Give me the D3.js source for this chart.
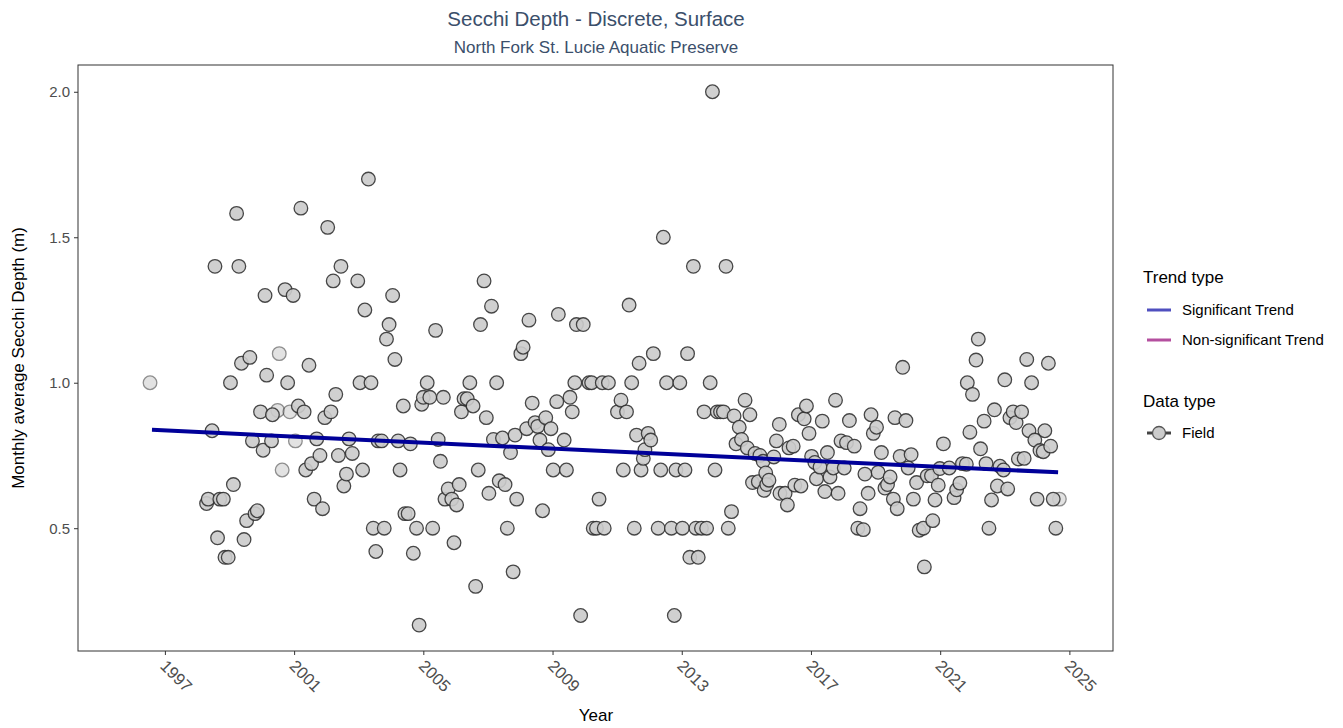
<!DOCTYPE html>
<html>
<head>
<meta charset="utf-8">
<script src="https://d3js.org/d3.v7.min.js"></script>
<style>
  body { margin: 0; background: #fff; }
  text { font-family: "Liberation Sans", Arial, sans-serif; }
</style>
</head>
<body>
<div id="chart"></div>
<script>

// sample dates as decimal years, and monthly average Secchi depth (m)
var sampleYears = [
  1998.29, 1998.34, 1998.46, 1998.55, 1998.63, 1998.70, 1998.81, 1998.86, 1998.96,
  1999.03, 1999.12, 1999.22, 1999.29, 1999.37, 1999.45, 1999.53, 1999.63, 1999.71, 1999.79, 1999.86, 1999.96,
  2000.04, 2000.10, 2000.15, 2000.30, 2000.33, 2000.72, 2000.80, 2000.97,
  2001.13, 2001.21, 2001.31, 2001.36, 2001.46, 2001.54, 2001.62, 2001.70, 2001.80, 2001.88, 2001.95,
  2002.04, 2002.14, 2002.21, 2002.29, 2002.37, 2002.45, 2002.54, 2002.62, 2002.70, 2002.80, 2002.97,
  2003.04, 2003.12, 2003.19, 2003.30, 2003.38, 2003.45, 2003.53, 2003.60, 2003.71, 2003.79, 2003.86, 2003.94,
  2004.05, 2004.12, 2004.22, 2004.28, 2004.38, 2004.43, 2004.53, 2004.60, 2004.69, 2004.79, 2004.87, 2004.95,
  2005.00, 2005.12, 2005.20, 2005.29, 2005.38, 2005.46, 2005.53, 2005.62, 2005.67, 2005.77, 2005.88, 2005.95,
  2006.03, 2006.11, 2006.18, 2006.26, 2006.36, 2006.44, 2006.54, 2006.62, 2006.70, 2006.77, 2006.88, 2006.95,
  2007.03, 2007.11, 2007.17, 2007.27, 2007.35, 2007.45, 2007.53, 2007.60, 2007.70, 2007.78, 2007.84, 2007.89,
  2008.02, 2008.09, 2008.20, 2008.27, 2008.37, 2008.46, 2008.54, 2008.61, 2008.69, 2008.79, 2008.87, 2008.95,
  2009.02, 2009.13, 2009.18, 2009.36, 2009.43, 2009.54, 2009.61, 2009.69, 2009.74, 2009.87, 2009.95,
  2010.13, 2010.21, 2010.26, 2010.36, 2010.44, 2010.54, 2010.60, 2010.73,
  2011.01, 2011.12, 2011.19, 2011.29, 2011.37, 2011.45, 2011.53, 2011.60, 2011.68, 2011.74, 2011.81, 2011.86, 2011.96,
  2012.04, 2012.12, 2012.27, 2012.35, 2012.43, 2012.53, 2012.68, 2012.77, 2012.82, 2012.94,
  2013.02, 2013.10, 2013.18, 2013.25, 2013.36, 2013.44, 2013.51, 2013.61, 2013.69, 2013.77, 2013.88, 2013.95,
  2014.03, 2014.10, 2014.20, 2014.29, 2014.37, 2014.44, 2014.54, 2014.62, 2014.68, 2014.78, 2014.85, 2014.96,
  2015.03, 2015.11, 2015.19, 2015.27, 2015.37, 2015.42, 2015.52, 2015.55, 2015.60, 2015.63, 2015.70, 2015.85, 2015.93,
  2016.02, 2016.04, 2016.20, 2016.27, 2016.32, 2016.45, 2016.50, 2016.61, 2016.69, 2016.79, 2016.86, 2016.94,
  2017.02, 2017.12, 2017.17, 2017.28, 2017.35, 2017.43, 2017.51, 2017.59, 2017.69, 2017.76, 2017.84, 2017.93,
  2018.03, 2018.10, 2018.19, 2018.34, 2018.45, 2018.52, 2018.62, 2018.67, 2018.77, 2018.86, 2018.93,
  2019.03, 2019.08, 2019.18, 2019.29, 2019.37, 2019.45, 2019.55, 2019.60, 2019.67, 2019.76, 2019.84, 2019.94,
  2020.01, 2020.10, 2020.17, 2020.27, 2020.35, 2020.48, 2020.51, 2020.60, 2020.73, 2020.77, 2020.84, 2020.94, 2020.99,
  2021.10, 2021.28, 2021.43, 2021.51, 2021.61, 2021.69, 2021.81, 2021.84, 2021.92,
  2022.00, 2022.11, 2022.18, 2022.25, 2022.36, 2022.42, 2022.51, 2022.59, 2022.68, 2022.77, 2022.85, 2022.96,
  2023.00, 2023.09, 2023.16, 2023.26, 2023.35, 2023.42, 2023.52, 2023.60, 2023.68, 2023.75, 2023.83, 2023.93,
  2024.00, 2024.09, 2024.19, 2024.24, 2024.35, 2024.42, 2024.50, 2024.58
];
var secchiDepth = [
  0.585, 0.60, 0.835, 1.40, 0.467, 0.60, 0.60, 0.40, 0.40,
  1.00, 0.65, 1.582, 1.40, 1.067, 0.461, 0.526, 1.087, 0.80, 0.55, 0.56, 0.90,
  0.768, 1.30, 1.026, 0.80, 0.89, 1.32, 1.00, 1.30,
  0.92, 1.60, 0.90, 0.70, 1.06, 0.722, 0.60, 0.807, 0.75, 0.567, 0.88,
  1.534, 0.90, 1.35, 0.96, 0.75, 1.40, 0.645, 0.686, 0.807, 0.757, 1.35,
  1.00, 0.70, 1.25, 1.70, 1.00, 0.50, 0.42, 0.80, 0.80, 0.50, 1.15, 1.20,
  1.30, 1.08, 0.80, 0.70, 0.92, 0.55, 0.55, 0.79, 0.414, 0.50, 0.167, 0.926,
  0.95, 1.00, 0.95, 0.50, 1.18, 0.805, 0.73, 0.95, 0.60, 0.635, 0.60, 0.45,
  0.58, 0.65, 0.90, 0.945, 0.945, 1.00, 0.92, 0.30, 0.70, 1.20, 1.35, 0.88,
  0.62, 1.263, 0.805, 1.00, 0.663, 0.81, 0.65, 0.50, 0.76, 0.35, 0.82, 0.60,
  1.10, 1.122, 0.842, 1.215, 0.93, 0.863, 0.85, 0.803, 0.56, 0.88, 0.77, 0.842,
  0.70, 0.935, 1.235, 0.803, 0.70, 0.95, 0.90, 1.00, 1.20, 0.20, 1.20,
  1.00, 1.00, 0.50, 0.50, 0.60, 1.00, 0.50, 1.00,
  0.90, 0.94, 0.70, 0.90, 1.267, 1.00, 0.50, 0.82, 1.067, 0.70, 0.74, 0.77, 0.826,
  0.803, 1.10, 0.50, 0.70, 1.50, 1.00, 0.50, 0.20, 0.70, 1.00,
  0.50, 0.70, 1.10, 0.40, 1.40, 0.50, 0.40, 0.50, 0.90, 0.50, 1.00, 2.00,
  0.70, 0.90, 0.90, 0.90, 1.40, 0.50, 0.557, 0.886, 0.79, 0.847, 0.805, 0.94,
  0.776, 0.89, 0.657, 0.757, 0.66, 0.75, 0.73, 0.63, 0.69, 0.65, 0.665, 0.745, 0.80,
  0.857, 0.62, 0.62, 0.58, 0.776, 0.782, 0.648, 0.89, 0.645, 0.876, 0.92, 0.826,
  0.747, 0.726, 0.67, 0.71, 0.868, 0.626, 0.76, 0.676, 0.707, 0.94, 0.62, 0.80,
  0.707, 0.794, 0.87, 0.782, 0.50, 0.567, 0.495, 0.686, 0.62, 0.89, 0.826,
  0.847, 0.692, 0.76, 0.638, 0.65, 0.676, 0.60, 0.88, 0.567, 0.747, 1.053, 0.87,
  0.707, 0.753, 0.60, 0.657, 0.493, 0.50, 0.367, 0.68, 0.68, 0.526, 0.597, 0.648, 0.705,
  0.79, 0.707, 0.605, 0.632, 0.655, 0.722, 0.72, 1.00, 0.83,
  0.96, 1.078, 1.15, 0.773, 0.868, 0.722, 0.50, 0.597, 0.907, 0.645, 0.713, 0.70,
  1.01, 0.635, 0.88, 0.90, 0.863, 0.738, 0.90, 0.74, 1.08, 0.835, 1.00, 0.803,
  0.60, 0.767, 0.763, 0.835, 1.067, 0.782, 0.60, 0.50
];

// lighter (semi transparent) points
var faintYears = [1996.54, 2000.49, 2000.54, 2000.63, 2000.87, 2001.04, 2024.69];
var faintDepth = [1.00, 0.905, 1.10, 0.70, 0.90, 0.80, 0.60];

// fitted trend
var trendYears = [1996.6, 2024.65];
var trendDepth = [0.838, 0.692];

var xTicks = [1997, 2001, 2005, 2009, 2013, 2017, 2021, 2025];
var yTicks = [0.5, 1.0, 1.5, 2.0];

var width = 1343, height = 728;
var margin = {top: 65, right: 230, bottom: 77, left: 78};

var svg = d3.select("#chart")
  .append("svg")
  .attr("width", width)
  .attr("height", height);

var x = d3.scaleLinear()
  .domain([1994.31, 2026.35])
  .range([margin.left, width - margin.right]);

var y = d3.scaleLinear()
  .domain([0.078, 2.092])
  .range([height - margin.bottom, margin.top]);

// titles
svg.append("text")
  .attr("x", 596).attr("y", 26)
  .attr("text-anchor", "middle")
  .style("font-size", "20.5px")
  .style("fill", "#3b4f6b")
  .text("Secchi Depth - Discrete, Surface");

svg.append("text")
  .attr("x", 596).attr("y", 53)
  .attr("text-anchor", "middle")
  .style("font-size", "17px")
  .style("fill", "#3b4f6b")
  .text("North Fork St. Lucie Aquatic Preserve");

// axes
var xAxis = svg.append("g")
  .attr("transform", "translate(0," + (height - margin.bottom) + ")")
  .call(d3.axisBottom(x).tickValues(xTicks).tickFormat(d3.format("d")).tickSize(4));
xAxis.select(".domain").remove();
xAxis.selectAll(".tick line").attr("stroke", "#333");
xAxis.selectAll(".tick text")
  .attr("text-anchor", "start")
  .attr("y", 0)
  .attr("dy", "0.35em")
  .attr("transform", "translate(-2,12) rotate(45)")
  .style("font-size", "16.5px")
  .style("fill", "#4d4d4d");

var yAxis = svg.append("g")
  .attr("transform", "translate(" + margin.left + ",0)")
  .call(d3.axisLeft(y).tickValues(yTicks).tickFormat(d3.format(".1f")).tickSize(4).tickPadding(4));
yAxis.select(".domain").remove();
yAxis.selectAll(".tick line").attr("stroke", "#333");
yAxis.selectAll(".tick text")
  .style("font-size", "15px")
  .style("fill", "#4d4d4d");

svg.append("text")
  .attr("x", 596).attr("y", 721)
  .attr("text-anchor", "middle")
  .style("font-size", "17px")
  .text("Year");

svg.append("text")
  .attr("transform", "translate(24," + ((margin.top + height - margin.bottom) / 2) + ") rotate(-90)")
  .attr("text-anchor", "middle")
  .style("font-size", "17px")
  .text("Monthly average Secchi Depth (m)");

// points
var pts = sampleYears.map(function(d, i) { return {t: d, v: secchiDepth[i]}; });
var faint = faintYears.map(function(d, i) { return {t: d, v: faintDepth[i]}; });

svg.append("g").selectAll("circle")
  .data(faint)
  .enter().append("circle")
  .attr("cx", function(d) { return x(d.t); })
  .attr("cy", function(d) { return y(d.v); })
  .attr("r", 6.8)
  .attr("fill", "#cccccc")
  .attr("stroke", "#333")
  .attr("stroke-width", 1.3)
  .attr("opacity", 0.55);

svg.append("g").selectAll("circle")
  .data(pts)
  .enter().append("circle")
  .attr("cx", function(d) { return x(d.t); })
  .attr("cy", function(d) { return y(d.v); })
  .attr("r", 6.8)
  .attr("fill", "#cccccc")
  .attr("stroke", "#333")
  .attr("stroke-width", 1.3)
  .attr("opacity", 0.9);

// trend line
var line = d3.line()
  .x(function(d, i) { return x(trendYears[i]); })
  .y(function(d) { return y(d); });

svg.append("path")
  .datum(trendDepth)
  .attr("d", line)
  .attr("fill", "none")
  .attr("stroke", "#000099")
  .attr("stroke-width", 4);

// panel border
svg.append("rect")
  .attr("x", margin.left).attr("y", margin.top)
  .attr("width", width - margin.left - margin.right)
  .attr("height", height - margin.top - margin.bottom)
  .attr("fill", "none")
  .attr("stroke", "#333")
  .attr("stroke-width", 1);

// legend
var lg = svg.append("g").attr("transform", "translate(1143,0)");

lg.append("text").attr("x", 0).attr("y", 283)
  .style("font-size", "17px").text("Trend type");

var trendKeys = [
  {label: "Significant Trend", color: "#4f4fbf", y: 310},
  {label: "Non-significant Trend", color: "#b44f9f", y: 340}
];
trendKeys.forEach(function(k) {
  lg.append("line")
    .attr("x1", 4).attr("x2", 28).attr("y1", k.y).attr("y2", k.y)
    .attr("stroke", k.color).attr("stroke-width", 3);
  lg.append("text").attr("x", 39).attr("y", k.y + 5)
    .style("font-size", "15px").text(k.label);
});

lg.append("text").attr("x", 0).attr("y", 407)
  .style("font-size", "17px").text("Data type");

lg.append("line")
  .attr("x1", 4).attr("x2", 28).attr("y1", 433).attr("y2", 433)
  .attr("stroke", "#444").attr("stroke-width", 3);
lg.append("circle")
  .attr("cx", 16).attr("cy", 433).attr("r", 6.5)
  .attr("fill", "#cccccc").attr("stroke", "#555").attr("stroke-width", 1.3);
lg.append("text").attr("x", 39).attr("y", 438)
  .style("font-size", "15px").text("Field");

</script>
</body>
</html>
